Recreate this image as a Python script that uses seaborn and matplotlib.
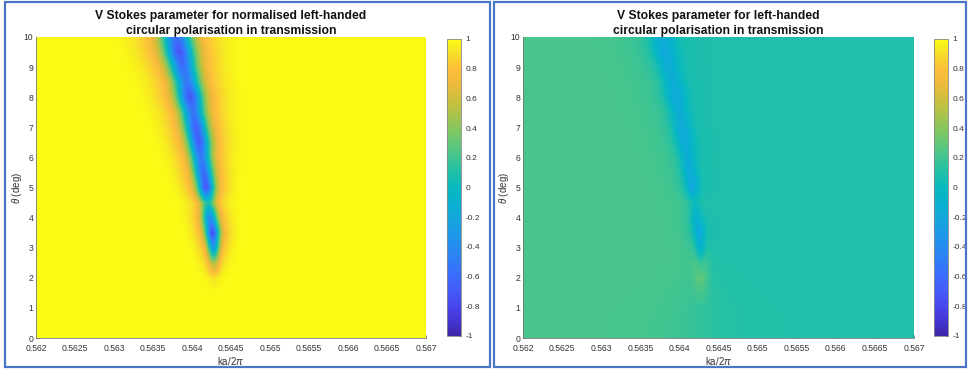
import numpy as np
import matplotlib
matplotlib.use("Agg")
import matplotlib.pyplot as plt
from matplotlib.colors import LinearSegmentedColormap
from matplotlib.patches import Rectangle
import seaborn as sns

# ---------------------------------------------------------------- data
# incidence angle of each simulated row (deg)
theta_rows = [0.0, 0.5, 1.0, 1.5, 2.0, 2.5, 3.0, 3.5, 4.0, 4.5, 5.0,
              5.5, 6.0, 6.5, 7.0, 7.5, 8.0, 8.5, 9.0, 9.5, 10.0]
# resonance position (ka/2pi) for each row
res_centre = [0.56428, 0.56428, 0.56428, 0.56428, 0.56428, 0.56428,
              0.564276, 0.564263, 0.564231, 0.564205, 0.564179,
              0.564147, 0.564115, 0.564090, 0.564051, 0.564013,
              0.563974, 0.563936, 0.563885, 0.563840, 0.563801]
# minimum of the normalised V parameter at the resonance
v_norm_min = [1.0, 1.0, 1.0, 1.0, 0.92, 0.5, -0.25, -0.75, -0.4, 0.1,
              -0.72, -0.6, -0.5, -0.68, -0.66, -0.52, -0.72, -0.52,
              -0.58, -0.72, -0.58]
# resonance width (ka/2pi units)
res_width = [5.1e-5, 5.1e-5, 5.1e-5, 5.1e-5, 5.1e-5, 5.1e-5, 5.1e-5,
             5.8e-5, 6.4e-5, 6.6e-5, 7.2e-5, 8.0e-5, 8.6e-5, 9.3e-5,
             9.6e-5, 1.02e-4, 1.08e-4, 1.12e-4, 1.18e-4, 1.24e-4, 1.28e-4]
# transmitted-intensity boost at the resonance (unnormalised panel)
peak_boost = [0.0, 0.0, 0.0, 0.06, 0.16, 0.2, 0.14, 0.1, 0.1, 0.1,
              0.1, 0.1, 0.1, 0.1, 0.1, 0.1, 0.1, 0.1, 0.1, 0.1, 0.1]
# width of the change from the low-ka level to the high-ka level
edge_width = [5.0e-4, 5.0e-4, 4.5e-4, 3.5e-4, 2.5e-4, 1.5e-4, 9e-5,
              9e-5, 9e-5, 9e-5, 9e-5, 9e-5, 9e-5, 9e-5, 9e-5, 9e-5,
              9e-5, 9e-5, 9e-5, 9e-5, 9e-5]
# unnormalised V level on either side of the resonance
v_low_ka = 0.22
v_high_ka = 0.10

ka_ticks = [0.562, 0.5625, 0.563, 0.5635, 0.564, 0.5645, 0.565,
            0.5655, 0.566, 0.5665, 0.567]
ka_tick_labels = ["0.562", "0.5625", "0.563", "0.5635", "0.564", "0.5645",
                  "0.565", "0.5655", "0.566", "0.5665", "0.567"]
theta_ticks = [0, 1, 2, 3, 4, 5, 6, 7, 8, 9, 10]
cbar_ticks = [-1, -0.8, -0.6, -0.4, -0.2, 0, 0.2, 0.4, 0.6, 0.8, 1]
cbar_tick_labels = ["-1", "-0.8", "-0.6", "-0.4", "-0.2", "0", "0.2",
                    "0.4", "0.6", "0.8", "1"]

titles = ["V Stokes parameter for normalised left-handed\n"
          "circular polarisation in transmission",
          "V Stokes parameter for left-handed\n"
          "circular polarisation in transmission"]

KA_MIN, KA_MAX = 0.562, 0.567
TH_MIN, TH_MAX = 0.0, 10.0

# ---------------------------------------------------------------- colormap
parula_pts = [
    (0.00, (0.2422, 0.1504, 0.6603)),
    (0.05, (0.2690, 0.2070, 0.8300)),
    (0.10, (0.2780, 0.2800, 0.9300)),
    (0.16, (0.2650, 0.3650, 0.9800)),
    (0.22, (0.2150, 0.4500, 0.9850)),
    (0.30, (0.1500, 0.5500, 0.9400)),
    (0.38, (0.0900, 0.6400, 0.8800)),
    (0.45, (0.0300, 0.6950, 0.8100)),
    (0.50, (0.0350, 0.7250, 0.7500)),
    (0.56, (0.1400, 0.7550, 0.6500)),
    (0.62, (0.3000, 0.7750, 0.5300)),
    (0.70, (0.5300, 0.7800, 0.3700)),
    (0.78, (0.7600, 0.7550, 0.2400)),
    (0.85, (0.9300, 0.7300, 0.2300)),
    (0.90, (0.9950, 0.7500, 0.2300)),
    (0.95, (0.9700, 0.8600, 0.1700)),
    (1.00, (0.9769, 0.9839, 0.0805))]
parula = LinearSegmentedColormap.from_list("parula", parula_pts, N=256)

# ---------------------------------------------------------------- fields
n_ka, n_th = 390, 300
ka = KA_MIN + (np.arange(n_ka) + 0.5) * (KA_MAX - KA_MIN) / n_ka
theta = TH_MAX - (np.arange(n_th) + 0.5) * (TH_MAX - TH_MIN) / n_th

row_norm = []
row_raw = []
for c, vmin, w, pk, ew in zip(res_centre, v_norm_min, res_width,
                              peak_boost, edge_width):
    u = (ka - c) / w
    core = np.exp(-0.5 * u ** 2)
    halo = np.exp(-0.5 * (u / 2.3) ** 2)
    vn = 1.0 - (1.0 - vmin) * (0.72 * core + 0.28 * halo)
    step = 0.5 * (1.0 + np.tanh((ka - c) / ew))
    intensity = (v_low_ka + (v_high_ka - v_low_ka) * step
                 + pk * np.exp(-0.5 * (u / 1.3) ** 2))
    row_norm.append(vn)
    row_raw.append(intensity * vn)
row_norm = np.array(row_norm)
row_raw = np.array(row_raw)


def to_grid(rows):
    out = np.empty((n_th, n_ka))
    for j in range(n_ka):
        out[:, j] = np.interp(theta, theta_rows, rows[:, j])
    return np.clip(out, -1, 1)


fields = [to_grid(row_norm), to_grid(row_raw)]

# ---------------------------------------------------------------- figure
sns.set_theme(style="white")
plt.rcParams["font.family"] = ["Liberation Sans", "DejaVu Sans"]
plt.rcParams["mathtext.fontset"] = "custom"
plt.rcParams["mathtext.it"] = "Liberation Sans:italic"
plt.rcParams["mathtext.rm"] = "Liberation Sans"

W, H = 969, 369
fig = plt.figure(figsize=(W / 100, H / 100), dpi=100)
fig.patch.set_facecolor("white")

TXT = "#333333"
panels = [dict(ax=(36, 37, 426, 338), cb=(447, 39, 461, 336)),
          dict(ax=(523, 37, 914, 338), cb=(934, 39, 948, 336))]


def fig_rect(x0, y0, x1, y1):
    return [x0 / W, (H - y1) / H, (x1 - x0) / W, (y1 - y0) / H]


for k, (p, field) in enumerate(zip(panels, fields)):
    x0, y0, x1, y1 = p["ax"]
    ax = fig.add_axes(fig_rect(*p["ax"]))
    cax = fig.add_axes(fig_rect(*p["cb"]))
    sns.heatmap(field, ax=ax, cbar_ax=cax, cmap=parula, vmin=-1, vmax=1,
                xticklabels=False, yticklabels=False, rasterized=True)
    ax.set_xlim(0, n_ka)
    ax.set_ylim(n_th, 0)

    xpos = [(t - KA_MIN) / (KA_MAX - KA_MIN) * n_ka for t in ka_ticks]
    ypos = [(TH_MAX - t) / (TH_MAX - TH_MIN) * n_th for t in theta_ticks]
    ax.set_xticks(xpos)
    ax.set_xticklabels(ka_tick_labels)
    ax.set_yticks(ypos)
    ax.set_yticklabels([str(t) for t in theta_ticks])
    ax.tick_params(axis="both", which="both", direction="in", length=2,
                   width=0.5, color="#555555", labelsize=6.2,
                   labelcolor=TXT, bottom=True, left=True)
    ax.tick_params(axis="x", pad=4.5)
    ax.tick_params(axis="y", pad=2)
    for side in ("left", "bottom"):
        ax.spines[side].set_visible(True)
        ax.spines[side].set_color("#777777")
        ax.spines[side].set_linewidth(0.6)

    # axis labels placed by pixel offset below / left of the plot area
    ax.set_xlabel(r"ka/2$\pi$", fontsize=7, color=TXT)
    ax.xaxis.set_label_coords(0.5, -(355 - y1) / (y1 - y0))
    ax.set_ylabel(r"$\it{\theta}$ (deg)", fontsize=7, color=TXT)
    ax.yaxis.set_label_coords(-12 / (x1 - x0), 0.5)
    ax.set_title(titles[k], fontsize=8.7, fontweight="bold",
                 color="#111111", pad=2.5, linespacing=1.3)

    cb = ax.collections[0].colorbar
    cb.set_ticks(cbar_ticks)
    cb.set_ticklabels(cbar_tick_labels)
    cb.outline.set_edgecolor("#888888")
    cb.outline.set_linewidth(0.6)
    cax.tick_params(direction="in", length=2, width=0.5, color="#555555",
                    labelsize=6, labelcolor=TXT, pad=3)

# blue frames around each panel
for (fx0, fy0, fx1, fy1) in [(5, 2, 490, 367), (494, 2, 966, 367)]:
    fig.patches.append(Rectangle((fx0 / W, (H - fy1) / H),
                                 (fx1 - fx0) / W, (fy1 - fy0) / H,
                                 transform=fig.transFigure, fill=False,
                                 edgecolor="#4a76c8", linewidth=1.6))

fig.savefig("out.png", dpi=100, facecolor="white")
